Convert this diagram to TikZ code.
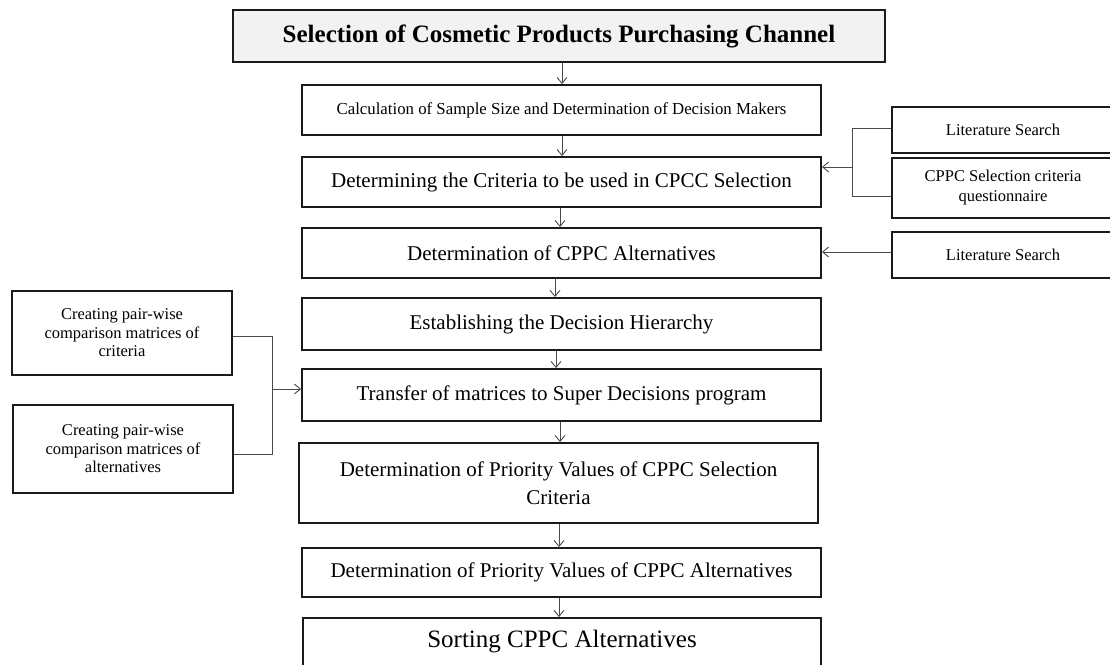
\documentclass[tikz,border=0pt]{standalone}
\usepackage{fontspec}
\setmainfont{Liberation Serif}
\usetikzlibrary{arrows.meta}
\definecolor{boxline}{HTML}{1A1A1A}
\definecolor{connline}{HTML}{4A4A4A}
\definecolor{titlefill}{HTML}{F2F2F2}
\tikzset{
  box/.style={draw=boxline, line width=1.9pt, fill=white, inner sep=0pt, align=center, anchor=center},
  bigtext/.style={font=\fontsize{21}{28}\selectfont},
  smalltext/.style={font=\fontsize{16.5}{20}\selectfont},
  sidetext/.style={font=\fontsize{16.5}{18.5}\selectfont},
  conn/.style={draw=connline, line width=0.9pt},
  arr/.style={conn, -{Straight Barb[length=6pt,width=10pt,line width=0.9pt]}}
}
\begin{document}
\begin{tikzpicture}[x=1pt,y=-1pt]
\useasboundingbox[fill=white] (0,0) rectangle (1110,664);
% main column
\node[box, fill=titlefill, minimum width=652pt, minimum height=52pt, font=\fontsize{25}{30}\selectfont\bfseries] (t) at (559,36) {Selection of Cosmetic Products Purchasing Channel};
\node[box, minimum width=519pt, minimum height=50pt, font=\fontsize{16.8}{20}\selectfont] (b2) at (561.5,110) {Calculation of Sample Size and Determination of Decision Makers};
\node[box, bigtext, minimum width=519pt, minimum height=50pt] (b3) at (561.5,182) {Determining the Criteria to be used in CPCC Selection};
\node[box, bigtext, minimum width=519pt, minimum height=50pt] (b4) at (561.5,253) {Determination of CPPC Alternatives};
\node[box, bigtext, minimum width=519pt, minimum height=52pt] (b5) at (561.5,324) {Establishing the Decision Hierarchy};
\node[box, bigtext, minimum width=519pt, minimum height=52pt] (b6) at (561.5,395) {Transfer of matrices to Super Decisions program};
\node[box, bigtext, minimum width=519pt, minimum height=80pt] (b7) at (558.5,483) {Determination of Priority Values of CPPC Selection\\Criteria};
\node[box, bigtext, minimum width=519pt, minimum height=49pt] (b8) at (561.5,572.5) {Determination of Priority Values of CPPC Alternatives};
\node[box, minimum width=518pt, minimum height=48pt, font=\fontsize{25}{30}\selectfont] (b9) at (562,642) {Sorting CPPC Alternatives};
% right column
\node[box, smalltext, minimum width=222pt, minimum height=46pt] (r1) at (1003,130) {Literature Search};
\node[box, smalltext, minimum width=222pt, minimum height=60pt] (r2) at (1003,188) {CPPC Selection criteria\\questionnaire};
\node[box, smalltext, minimum width=222pt, minimum height=46pt] (r3) at (1003,255) {Literature Search};
% left column
\node[box, sidetext, minimum width=220pt, minimum height=84pt] (l1) at (122,333) {Creating pair-wise\\comparison matrices of\\criteria};
\node[box, sidetext, minimum width=220pt, minimum height=88pt] (l2) at (123,449) {Creating pair-wise\\comparison matrices of\\alternatives};
% vertical arrows
\coordinate (x1) at (562,0);
\coordinate (x2) at (562,0);
\coordinate (x3) at (560,0);
\coordinate (x4) at (555,0);
\coordinate (x5) at (556,0);
\coordinate (x6) at (560,0);
\coordinate (x7) at (559,0);
\coordinate (x8) at (559,0);
\draw[arr] (t.south -| x1) -- (b2.north -| x1);
\draw[arr] (b2.south -| x2) -- (b3.north -| x2);
\draw[arr] (b3.south -| x3) -- (b4.north -| x3);
\draw[arr] (b4.south -| x4) -- (b5.north -| x4);
\draw[arr] (b5.south -| x5) -- (b6.north -| x5);
\draw[arr] (b6.south -| x6) -- (b7.north -| x6);
\draw[arr] (b7.south -| x7) -- (b8.north -| x7);
\draw[arr] (b8.south -| x8) -- (b9.north -| x8);
% right bracket
\coordinate (jr1) at (852,128);
\coordinate (jr2) at (852,196);
\coordinate (jra) at (852,167);
\draw[conn] (r1.west |- jr1) -- (jr1) -- (jr2) -- (r2.west |- jr2);
\draw[arr] (jra) -- (b3.east |- jra);
\coordinate (yr3) at (0,252);
\draw[arr] (r3.west |- yr3) -- (b4.east |- yr3);
% left bracket
\coordinate (jl1) at (272,336);
\coordinate (jl2) at (272,454);
\coordinate (jla) at (272,389);
\draw[conn] (l1.east |- jl1) -- (jl1) -- (jl2) -- (l2.east |- jl2);
\draw[arr] (jla) -- (b6.west |- jla);
\end{tikzpicture}
\end{document}
